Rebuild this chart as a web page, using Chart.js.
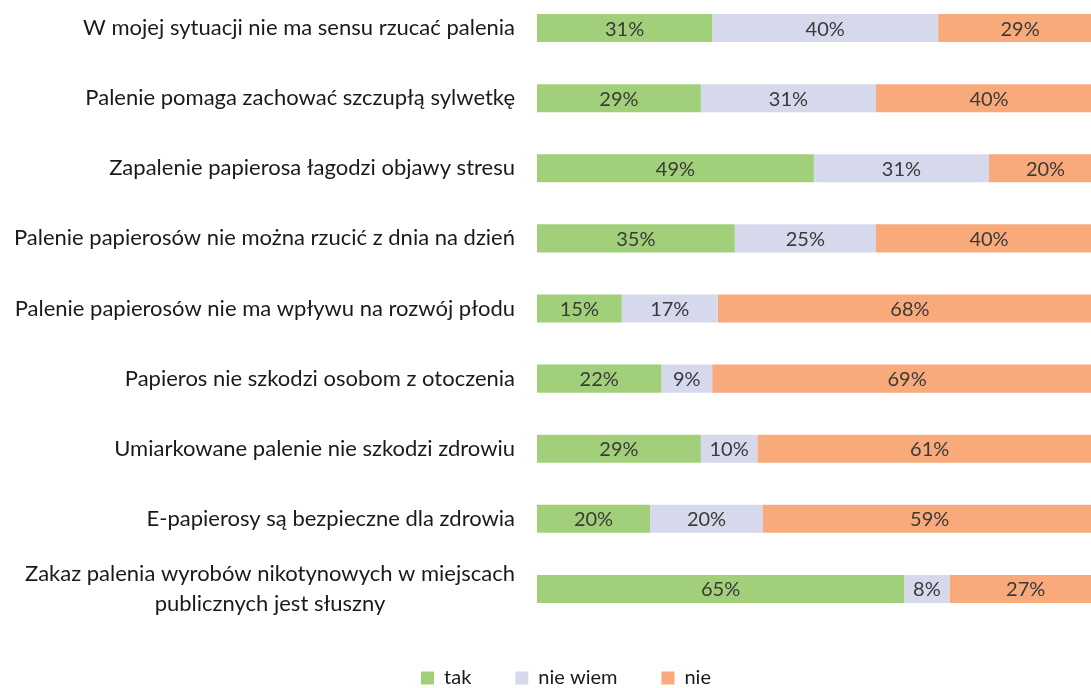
<!DOCTYPE html>
<html>
<head>
<meta charset="utf-8">
<script src="https://cdn.jsdelivr.net/npm/chart.js@4.4.1/dist/chart.umd.min.js"></script>
<style>
  html, body { margin: 0; padding: 0; background: #fff; overflow: hidden; }
  #wrap { position: absolute; left: 0; top: -7px; width: 1132px; height: 705px; }
</style>
</head>
<body>
<div id="wrap"><canvas id="chart"></canvas></div>
<script>
const labels = [
    ['W mojej sytuacji nie ma sensu rzucać palenia'],
    ['Palenie pomaga zachować szczupłą sylwetkę'],
    ['Zapalenie papierosa łagodzi objawy stresu'],
    ['Palenie papierosów nie można rzucić z dnia na dzień'],
    ['Palenie papierosów nie ma wpływu na rozwój płodu'],
    ['Papieros nie szkodzi osobom z otoczenia'],
    ['Umiarkowane palenie nie szkodzi zdrowiu'],
    ['E-papierosy są bezpieczne dla zdrowia'],
    ['Zakaz palenia wyrobów nikotynowych w miejscach', 'publicznych jest słuszny']
];
const tak = [31, 29, 49, 35, 15, 22, 29, 20, 65];
const nieWiem = [40, 31, 31, 25, 17, 9, 10, 20, 8];
const nie = [29, 40, 20, 40, 68, 69, 61, 59, 27];

const labelFont = '22px Lato';
const valueFont = '20px Lato';

// category labels drawn next to the axis, multi-line block centred
const catLabels = {
    id: 'catLabels',
    afterDraw(chart) {
        const ctx = chart.ctx;
        const y = chart.scales.y;
        const right = chart.chartArea.left - 22;
        ctx.save();
        ctx.font = labelFont;
        ctx.fillStyle = '#1a1a1a';
        ctx.textBaseline = 'middle';
        labels.forEach((lines, i) => {
            const cy = y.getPixelForValue(i);
            const lh = 30;
            if (lines.length === 1) {
                ctx.textAlign = 'right';
                ctx.fillText(lines[0], right, cy);
            } else {
                const w = Math.max(...lines.map(l => ctx.measureText(l).width));
                ctx.textAlign = 'center';
                lines.forEach((l, k) => {
                    ctx.fillText(l, right - w / 2, cy + (k - (lines.length - 1) / 2) * lh);
                });
            }
        });
        ctx.restore();
    }
};

// value labels in the middle of each segment
const valueLabels = {
    id: 'valueLabels',
    afterDatasetsDraw(chart) {
        const ctx = chart.ctx;
        ctx.save();
        ctx.font = valueFont;
        ctx.fillStyle = '#3a3a3a';
        ctx.textAlign = 'center';
        ctx.textBaseline = 'middle';
        chart.data.datasets.forEach((ds, di) => {
            chart.getDatasetMeta(di).data.forEach((bar, i) => {
                const x = (bar.base + bar.x) / 2;
                ctx.fillText(ds.data[i] + '%', x, bar.y + 1);
            });
        });
        ctx.restore();
    }
};

new Chart(document.getElementById('chart'), {
    type: 'bar',
    data: {
        labels: labels.map(l => l.join(' ')),
        datasets: [
            { label: 'tak', data: tak, backgroundColor: '#a2d07a' },
            { label: 'nie wiem', data: nieWiem, backgroundColor: '#d6d9ec' },
            { label: 'nie', data: nie, backgroundColor: '#f9aa7b' }
        ]
    },
    options: {
        indexAxis: 'y',
        responsive: true,
        maintainAspectRatio: false,
        animation: false,
        categoryPercentage: 1,
        barPercentage: 0.4,
        layout: { padding: { left: 30, right: 30, top: 0, bottom: 0 } },
        scales: {
            x: {
                stacked: true,
                min: 0,
                max: 100,
                display: false
            },
            y: {
                stacked: true,
                grid: { display: false },
                border: { display: false },
                ticks: { display: false },
                afterFit: (scale) => { scale.width = 507; }
            }
        },
        plugins: {
            legend: {
                position: 'bottom',
                labels: {
                    boxWidth: 13,
                    boxHeight: 13,
                    padding: 44,
                    color: '#1a1a1a',
                    font: { family: 'Lato', size: 20 }
                }
            },
            tooltip: { enabled: false }
        }
    },
    plugins: [catLabels, valueLabels]
});
</script>
</body>
</html>
